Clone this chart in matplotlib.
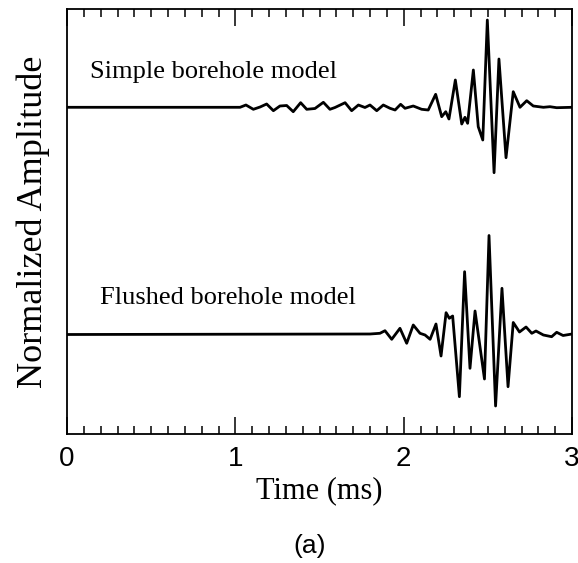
import matplotlib
matplotlib.use("Agg")
import matplotlib.pyplot as plt
from matplotlib.ticker import MultipleLocator

# Simple borehole model trace
simple_t = [0.0, 1.028, 1.063, 1.107, 1.147, 1.186, 1.226, 1.265, 1.305, 1.344, 1.388,
            1.424, 1.473, 1.523, 1.562, 1.592, 1.652, 1.691, 1.731, 1.770, 1.800, 1.840,
            1.879, 1.919, 1.949, 1.982, 2.008, 2.057, 2.107, 2.146, 2.190, 2.226, 2.250,
            2.269, 2.307, 2.345, 2.364, 2.380, 2.414, 2.443, 2.470, 2.497, 2.537, 2.566,
            2.608, 2.651, 2.691, 2.731, 2.770, 2.830, 2.869, 2.909, 3.0]
simple_a = [0.0, 0.0, 0.023, -0.02, 0.003, 0.033, -0.034, 0.013, 0.018, -0.044, 0.046,
            -0.02, -0.012, 0.05, -0.02, -0.002, 0.046, -0.034, 0.023, -0.002, 0.023, -0.034,
            0.023, -0.01, -0.027, 0.03, -0.01, 0.013, -0.02, -0.027, 0.13, -0.094, -0.044,
            -0.117, 0.273, -0.167, -0.1, -0.16, 0.373, -0.194, -0.327, 0.873, -0.654, 0.483,
            -0.504, 0.156, 0.0, 0.066, 0.013, 0.0, 0.006, -0.004, 0.0]

# Flushed borehole model trace
flushed_t = [0.0, 1.800, 1.859, 1.889, 1.929, 1.978, 2.018, 2.057, 2.097, 2.127, 2.157,
             2.192, 2.222, 2.252, 2.271, 2.291, 2.331, 2.362, 2.394, 2.424, 2.480, 2.507,
             2.546, 2.584, 2.620, 2.651, 2.688, 2.727, 2.761, 2.786, 2.830, 2.879, 2.909,
             2.947, 3.0]
flushed_a = [0.0, 0.005, 0.012, 0.038, -0.048, 0.062, -0.088, 0.095, 0.012, -0.005, -0.048,
             0.105, -0.215, 0.218, 0.162, 0.185, -0.622, 0.628, -0.338, 0.235, -0.445, 0.99,
             -0.715, 0.462, -0.522, 0.12, 0.025, 0.075, 0.012, 0.035, -0.005, -0.022, 0.022,
             -0.01, 0.005]

labels = ["Simple borehole model", "Flushed borehole model"]
xticks = [0, 1, 2, 3]

SIMPLE_OFFSET = 3.267
FLUSHED_OFFSET = 0.995

fig = plt.figure(figsize=(5.78, 5.63), dpi=100)
ax = fig.add_axes([67/578, 1-434/563, (572-67)/578, (434-9)/563])

ax.plot(simple_t, [a + SIMPLE_OFFSET for a in simple_a], color="black", lw=2.0,
        solid_joinstyle="round")
ax.plot(flushed_t, [a + FLUSHED_OFFSET for a in flushed_a], color="black", lw=2.0,
        solid_joinstyle="round")

ax.set_xlim(0, 3)
ax.set_ylim(0, 4.25)
ax.set_xticks(xticks)
ax.set_xticklabels([str(x) for x in xticks], fontname="Liberation Sans", fontsize=20)
ax.xaxis.set_minor_locator(MultipleLocator(0.1))
ax.tick_params(axis="x", which="major", direction="in", length=12, width=1.1,
               top=True, bottom=True, pad=9)
ax.tick_params(axis="x", which="minor", direction="in", length=6, width=1.1,
               top=True, bottom=True)
ax.set_yticks([])
for s in ax.spines.values():
    s.set_linewidth(1.3)

ax.set_xlabel("Time (ms)", fontname="Liberation Serif", fontsize=22, labelpad=3)
ax.set_ylabel("Normalized Amplitude", fontname="Liberation Serif", fontsize=26, labelpad=12)

ax.text(0.137, 3.62, labels[0], fontname="Liberation Serif", fontsize=19, va="center", ha="left")
ax.text(0.196, 1.36, labels[1], fontname="Liberation Serif", fontsize=19, va="center", ha="left")

fig.text(310/578, 1-546/563, "(a)", fontname="Liberation Sans", fontsize=19, ha="center", va="center")

fig.savefig("out.png", dpi=100, facecolor="white")
